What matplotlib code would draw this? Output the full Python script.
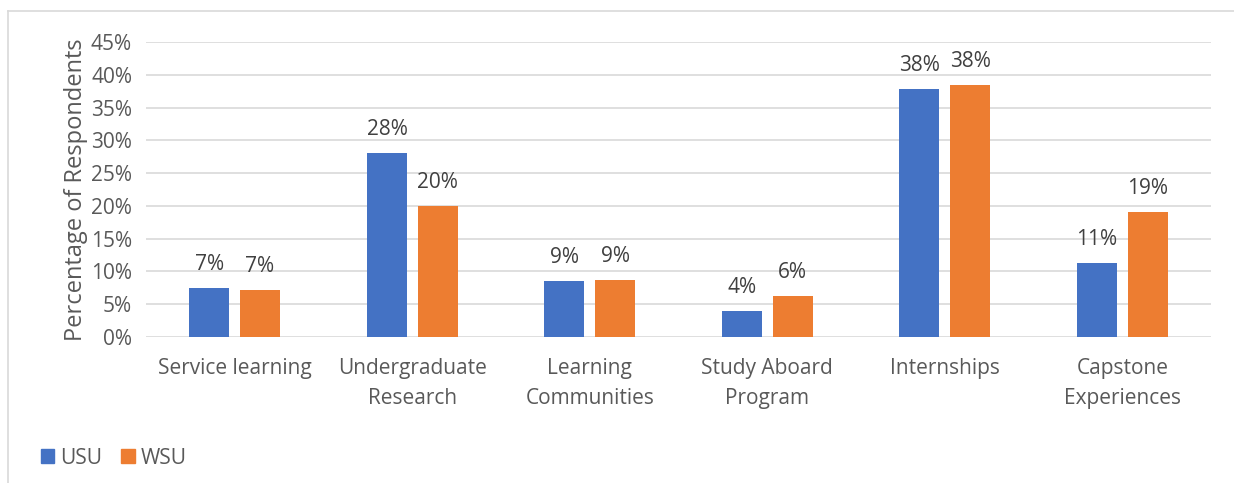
import matplotlib.pyplot as plt
import numpy as np
from matplotlib.lines import Line2D
from matplotlib.patches import Patch

categories = ["Service learning", "Undergraduate\nResearch", "Learning\nCommunities",
              "Study Aboard\nProgram", "Internships", "Capstone\nExperiences"]
usu = [7.4, 28.1, 8.6, 3.9, 37.8, 11.3]
wsu = [7.1, 20.0, 8.7, 6.2, 38.4, 19.0]
usu_labels = ["7%", "28%", "9%", "4%", "38%", "11%"]
wsu_labels = ["7%", "20%", "9%", "6%", "38%", "19%"]

blue = "#4472C4"
orange = "#ED7D31"
txt = "#595959"

plt.rcParams['font.family'] = ['Open Sans', 'DejaVu Sans']

fig = plt.figure(figsize=(12.34, 4.83), dpi=100)
ax = fig.add_axes([146/1234, 1-337/483, (1211-146)/1234, (337-42)/483])

x = np.arange(len(categories))
w = 0.225
gap = 0.06
ax.bar(x - (w + gap)/2, usu, w, color=blue, zorder=3)
ax.bar(x + (w + gap)/2, wsu, w, color=orange, zorder=3)

for i in range(len(x)):
    ax.text(x[i] - (w + gap)/2, usu[i] + 2.0, usu_labels[i], ha='center', va='bottom',
            fontsize=15, color="#404040")
    ax.text(x[i] + (w + gap)/2, wsu[i] + 2.0, wsu_labels[i], ha='center', va='bottom',
            fontsize=15, color="#404040")

ax.set_xlim(-0.5, len(categories) - 0.5)
ax.set_ylim(0, 45)
ax.set_yticks(np.arange(0, 46, 5))
ax.set_yticklabels([f"{v}%" for v in range(0, 46, 5)])
ax.set_xticks(x)
ax.set_xticklabels(categories, linespacing=1.55)
ax.tick_params(axis='both', length=0, labelsize=15, colors=txt)
ax.tick_params(axis='x', pad=15)
ax.tick_params(axis='y', pad=10)
ax.grid(axis='y', color="#D9D9D9", linewidth=1.2, zorder=0)
for s in ax.spines.values():
    s.set_visible(False)
ax.set_ylabel("Percentage of Respondents", fontsize=17, color=txt, labelpad=2)

handles = [Patch(color=blue, label="USU"), Patch(color=orange, label="WSU")]
fig.legend(handles=handles, loc='center left', bbox_to_anchor=(22/1234, 1-458/483),
           ncol=2, frameon=False, fontsize=15, handlelength=0.65, handleheight=0.65,
           handletextpad=0.3, columnspacing=0.9, labelcolor=txt)

# outer chart frame (top and left edges visible)
fig.add_artist(Line2D([8/1234, 1], [1-11/483, 1-11/483], color="#D9D9D9", linewidth=1.2))
fig.add_artist(Line2D([8/1234, 8/1234], [0, 1-11/483], color="#D9D9D9", linewidth=1.2))

fig.savefig("out.png", dpi=100)
